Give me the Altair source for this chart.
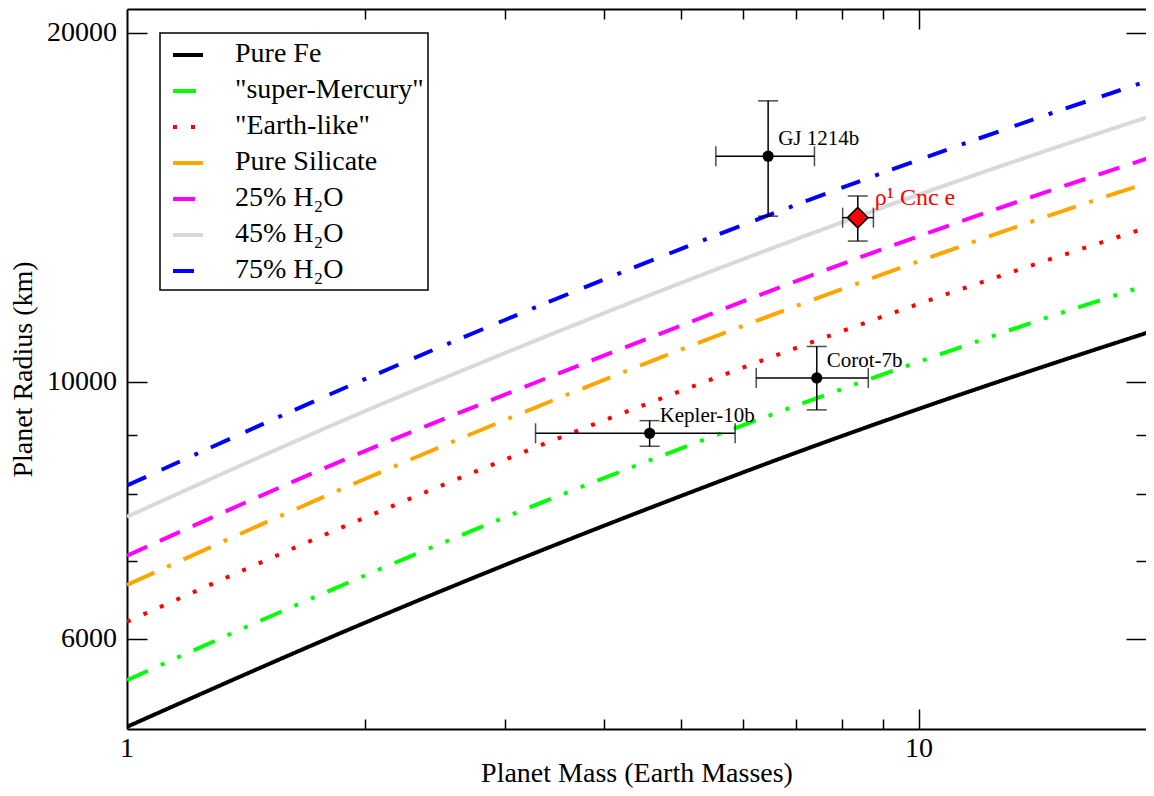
import altair as alt
import pandas as pd

# ---------------- data ----------------
mass_grid = [1, 2, 3, 5, 7, 10, 14, 20]
pure_fe = [5040, 6200, 6950, 7970, 8690, 9480, 10250, 11100]
super_mercury = [5530, 6810, 7640, 8760, 9540, 10410, 11270, 12200]
earth_like = [6210, 7640, 8570, 9820, 10700, 11680, 12630, 13680]
pure_silicate = [6680, 8250, 9270, 10660, 11630, 12710, 13780, 14950]
h2o_25 = [7080, 8720, 9750, 11180, 12220, 13360, 14470, 15690]
h2o_45 = [7650, 9440, 10590, 12170, 13280, 14510, 15710, 17030]
h2o_75 = [8140, 10060, 11310, 13020, 14220, 15550, 16860, 18300]

series_names = ["Pure Fe", '"super-Mercury"', '"Earth-like"', "Pure Silicate",
                "25% H₂O", "45% H₂O", "75% H₂O"]
series_values = [pure_fe, super_mercury, earth_like, pure_silicate, h2o_25, h2o_45, h2o_75]
series_colors = ["#000000", "#00ff00", "#ff0000", "#ffa500", "#ff00ff", "#d9d9d9", "#0000ff"]
series_dashes = [[1, 0], [23, 14, 4, 14, 4, 14], [4, 14], [30, 14, 4, 14], [22, 14],
                 [1, 0], [21, 17, 20, 16, 4, 14]]

planet_names = ["GJ 1214b", "Corot-7b", "Kepler-10b", "ρ¹ Cnc e"]
planet_mass = [6.45, 7.43, 4.57, 8.37]
planet_mass_lo = [5.54, 6.23, 3.28, 8.01]
planet_mass_hi = [7.38, 8.63, 5.86, 8.76]
planet_radius = [15660, 10080, 9030, 13860]
planet_radius_lo = [13900, 9460, 8800, 13230]
planet_radius_hi = [17480, 10730, 9260, 14470]
planet_kind = ["circle", "circle", "circle", "diamond"]

x_label_values = [1, 10]
x_tick_values = [2, 3, 4, 5, 6, 7, 8, 9, 10]
y_label_values = [6000, 10000, 20000]
y_tick_values = [6000, 7000, 8000, 9000, 10000, 20000]

# ---------------- tables ----------------
rows = []
for name, vals in zip(series_names, series_values):
    for m, r in zip(mass_grid, vals):
        rows.append({"series": name, "mass": m, "radius": r})
curves = pd.DataFrame(rows)

planets = pd.DataFrame({
    "name": planet_names, "m": planet_mass, "mlo": planet_mass_lo, "mhi": planet_mass_hi,
    "r": planet_radius, "rlo": planet_radius_lo, "rhi": planet_radius_hi, "kind": planet_kind,
})
xlab_df = pd.DataFrame({"v": x_label_values, "t": [str(v) for v in x_label_values]})
ylab_df = pd.DataFrame({"v": y_label_values, "t": [str(v) for v in y_label_values]})
legend_df = pd.DataFrame({"series": series_names})

# ---------------- layout ----------------
W, H = 1019, 720
FONT = "Liberation Serif"
xs = alt.Scale(type="log", domain=[1, 19.35], nice=False, zero=False)
ys = alt.Scale(type="log", domain=[5018, 20980], nice=False, zero=False)

x_major = {"condition": {"test": "datum.value == 10", "value": 20}, "value": 10}
y_major = {"condition": {"test": "datum.value == 6000 || datum.value == 10000 || datum.value == 20000",
                         "value": 20}, "value": 10}

ax_x_main = alt.Axis(orient="bottom", values=x_label_values, ticks=False, tickSize=0, domain=True,
                     labels=False, labelPadding=5, title="Planet Mass (Earth Masses)",
                     titlePadding=30, titleFont=FONT, grid=False)
ax_x_in_bottom = alt.Axis(orient="top", offset=-H, values=x_tick_values, labels=False, domain=False,
                          title=None, tickSize=x_major, grid=False)
ax_x_in_top = alt.Axis(orient="bottom", offset=-H, values=x_tick_values, labels=False, domain=True,
                       title=None, tickSize=x_major, grid=False)

ax_y_main = alt.Axis(orient="left", values=y_label_values, ticks=False, tickSize=0, domain=True,
                     labels=False, title="Planet Radius (km)", titlePadding=90,
                     titleFont=FONT, grid=False)
ax_y_in_left = alt.Axis(orient="right", offset=-W, values=y_tick_values, labels=False, domain=False,
                        title=None, tickSize=y_major, grid=False)
ax_y_in_right = alt.Axis(orient="left", offset=-W, values=y_tick_values, labels=False, domain=False,
                         title=None, tickSize=y_major, grid=False)

legend_kw = dict(title=None, orient="none", legendX=33, legendY=24, labelOpacity=0)

lines = alt.Chart(curves).mark_line(strokeWidth=4, clip=True, interpolate="monotone").encode(
    x=alt.X("mass:Q", scale=xs, axis=ax_x_main),
    y=alt.Y("radius:Q", scale=ys, axis=ax_y_main),
    color=alt.Color("series:N", scale=alt.Scale(domain=series_names, range=series_colors),
                    legend=alt.Legend(**legend_kw)),
    strokeDash=alt.StrokeDash("series:N", scale=alt.Scale(domain=series_names, range=series_dashes),
                              legend=alt.Legend(**legend_kw)),
    order=alt.Order("mass:Q"),
)

xerr = alt.Chart(planets).mark_rule(strokeWidth=1.5, color="black").encode(
    x=alt.X("mlo:Q", scale=xs, axis=ax_x_in_bottom),
    x2="mhi:Q",
    y=alt.Y("r:Q", scale=ys, axis=ax_y_in_left),
)
yerr = alt.Chart(planets).mark_rule(strokeWidth=1.5, color="black").encode(
    x=alt.X("m:Q", scale=xs, axis=ax_x_in_top),
    y=alt.Y("rlo:Q", scale=ys, axis=ax_y_in_right),
    y2="rhi:Q",
)
xcaps = alt.Chart(planets).transform_fold(["mlo", "mhi"], as_=["k", "capx"]).mark_tick(
    orient="vertical", size=20, thickness=1.5, color="black").encode(
    x=alt.X("capx:Q", scale=xs, axis=None),
    y=alt.Y("r:Q", scale=ys, axis=None),
)
ycaps = alt.Chart(planets).transform_fold(["rlo", "rhi"], as_=["k", "capy"]).mark_tick(
    orient="horizontal", size=20, thickness=1.5, color="black").encode(
    x=alt.X("m:Q", scale=xs, axis=None),
    y=alt.Y("capy:Q", scale=ys, axis=None),
)
dots = alt.Chart(planets).transform_filter("datum.kind == 'circle'").mark_point(
    shape="circle", filled=True, size=125, color="black", opacity=1).encode(
    x=alt.X("m:Q", scale=xs, axis=None),
    y=alt.Y("r:Q", scale=ys, axis=None),
)
diamond = alt.Chart(planets).transform_filter("datum.kind == 'diamond'").mark_point(
    shape="diamond", filled=True, size=420, fill="#ff0000", stroke="black", strokeWidth=1.5,
    opacity=1).encode(
    x=alt.X("m:Q", scale=xs, axis=None),
    y=alt.Y("r:Q", scale=ys, axis=None),
)
labels_black = alt.Chart(planets).transform_filter("datum.kind == 'circle'").mark_text(
    align="left", baseline="middle", dx=10, dy=-17, font=FONT, fontSize=21, color="black").encode(
    x=alt.X("m:Q", scale=xs, axis=None),
    y=alt.Y("r:Q", scale=ys, axis=None),
    text="name:N",
)
labels_red = alt.Chart(planets).transform_filter("datum.kind == 'diamond'").mark_text(
    align="left", baseline="middle", dx=17, dy=-20, font=FONT, fontSize=24, color="#ff0000").encode(
    x=alt.X("m:Q", scale=xs, axis=None),
    y=alt.Y("r:Q", scale=ys, axis=None),
    text="name:N",
)

# tick labels (serif), placed through the axis scales
xticklabels = alt.Chart(xlab_df).mark_text(
    align="center", baseline="top", font=FONT, fontSize=28, color="black").encode(
    x=alt.X("v:Q", scale=xs, axis=None),
    y=alt.value(H + 6),
    text="t:N",
)
yticklabels = alt.Chart(ylab_df).mark_text(
    align="right", baseline="middle", font=FONT, fontSize=28, color="black").encode(
    x=alt.value(-10),
    y=alt.Y("v:Q", scale=ys, axis=None),
    text="t:N",
)
# legend labels (serif), rows placed by a point scale over the series names
legend_labels = alt.Chart(legend_df).mark_text(
    align="left", baseline="middle", font=FONT, fontSize=28, color="black").encode(
    x=alt.value(108),
    y=alt.Y("series:N", scale=alt.Scale(type="point", domain=series_names, range=[45, 261], padding=0),
            axis=None),
    text="series:N",
)

chart = alt.layer(
    lines, xerr, yerr, xcaps, ycaps, dots, diamond, labels_black, labels_red,
    xticklabels, yticklabels, legend_labels
).resolve_axis(x="independent", y="independent").resolve_scale(y="independent").properties(
    width=W, height=H,
    autosize=alt.AutoSizeParams(type="none"),
    padding={"left": 119, "top": 1, "right": 0, "bottom": 59},
    background="white",
).configure(font=FONT).configure_view(strokeWidth=0).configure_axis(
    domainColor="black", domainWidth=2, tickColor="black", tickWidth=1.5,
    labelColor="black", titleColor="black", titleFont=FONT,
    labelFontSize=28, titleFontSize=28, titleFontWeight="normal", grid=False,
).configure_legend(
    strokeColor="black", strokeWidth=1.5, padding=5,
    symbolType="stroke", symbolSize=900, symbolStrokeWidth=4, symbolOffset=6,
    labelOffset=29, labelFontSize=28, labelColor="black",
    rowPadding=5, labelLimit=400,
)

chart.save("out.html", embed_options={"renderer": "svg", "actions": False})
